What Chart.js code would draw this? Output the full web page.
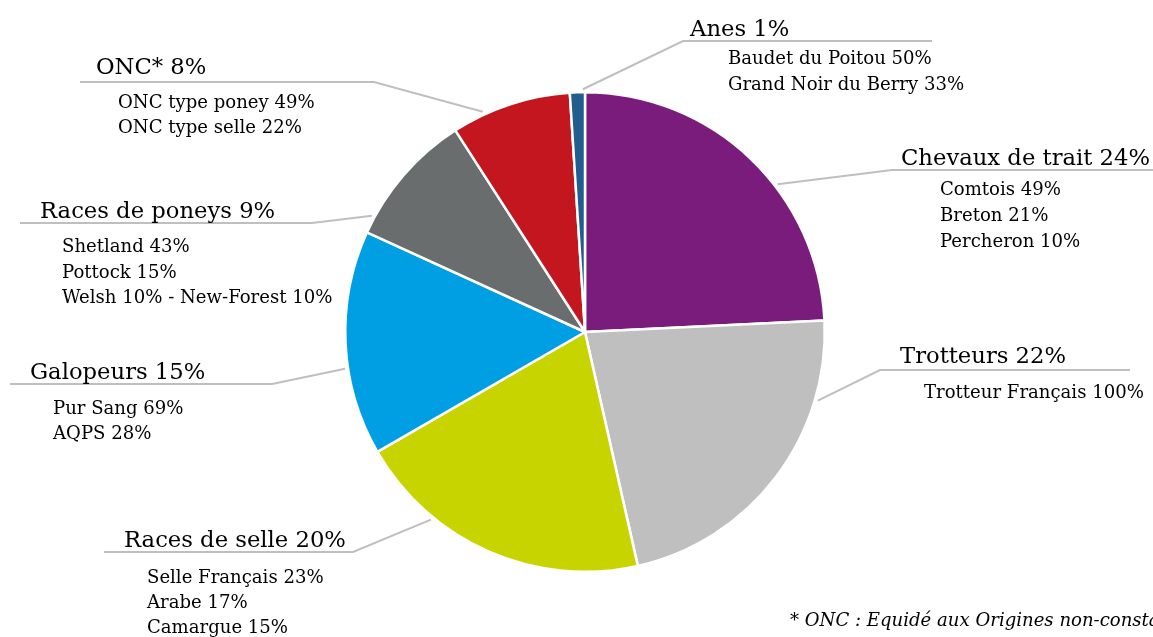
<!DOCTYPE html>
<html>
<head>
<meta charset="utf-8">
<script src="https://cdn.jsdelivr.net/npm/chart.js@4"></script>
<style>
  html, body { margin: 0; padding: 0; background: #fff; overflow: hidden; }
  #wrap { width: 1153px; height: 637px; position: relative; }
</style>
</head>
<body>
<div id="wrap"><canvas id="pieChart" width="1153" height="637"></canvas></div>
<script>
// Data
const categories = ['Chevaux de trait', 'Trotteurs', 'Races de selle', 'Galopeurs', 'Races de poneys', 'ONC*', 'Anes'];
const shares = [24, 22, 20, 15, 9, 8, 1];
const breakdowns = [
    ['Comtois 49%', 'Breton 21%', 'Percheron 10%'],
    ['Trotteur Français 100%'],
    ['Selle Français 23%', 'Arabe 17%', 'Camargue 15%'],
    ['Pur Sang 69%', 'AQPS 28%'],
    ['Shetland 43%', 'Pottock 15%', 'Welsh 10% - New-Forest 10%'],
    ['ONC type poney 49%', 'ONC type selle 22%'],
    ['Baudet du Poitou 50%', 'Grand Noir du Berry 33%']
];
const sliceColors = ['#7a1c7b', '#bfbfbf', '#c8d400', '#009fe3', '#6a6d6e', '#c3161e', '#215e8e'];
const footnote = '* ONC : Equidé aux Origines non-constatées';

// Label placement (layout only): underline y, outer end x, elbow x, angle on the rim (deg from top)
const labelLayout = [
    { lineY: 170, endX: 1153, elbowX: 892, angle: 52.5,  titleX: 901, titleY: 165, subX: 940, subY: 195, step: 26 },
    { lineY: 370, endX: 1130, elbowX: 880, angle: 106.4, titleX: 900, titleY: 363, subX: 924, subY: 398, step: 26 },
    { lineY: 552, endX: 104,  elbowX: 353, angle: 219.4, titleX: 124, titleY: 547, subX: 147, subY: 583, step: 25 },
    { lineY: 384, endX: 10,   elbowX: 272, angle: 261.3, titleX: 30,  titleY: 379, subX: 53,  subY: 414, step: 25 },
    { lineY: 223, endX: 20,   elbowX: 312, angle: 298.6, titleX: 40,  titleY: 218, subX: 62,  subY: 252, step: 25.5 },
    { lineY: 82,  endX: 80,   elbowX: 374, angle: 335.1, titleX: 96,  titleY: 74,  subX: 118, subY: 108, step: 25 },
    { lineY: 41,  endX: 932,  elbowX: 683, angle: 359.5, titleX: 690, titleY: 36,  subX: 728, subY: 64,  step: 25.5 }
];

const FAMILY = '"DejaVu Serif", "Liberation Serif", serif';

function fitSize(ctx, style, sample, width) {
    ctx.font = style + ' 100px ' + FAMILY;
    return 100 * width / ctx.measureText(sample).width;
}

const calloutPlugin = {
    id: 'callouts',
    afterDraw(chart) {
        const ctx = chart.ctx;
        const arcs = chart.getDatasetMeta(0).data;
        const titleSize = fitSize(ctx, '', 'Chevaux de trait 24%', 249);
        const subSize = fitSize(ctx, '', 'Trotteur Français 100%', 220);

        ctx.save();
        ctx.textBaseline = 'alphabetic';
        ctx.textAlign = 'left';
        ctx.fillStyle = '#000';

        labelLayout.forEach((pos, i) => {
            const arc = arcs[i];
            const a = pos.angle * Math.PI / 180;
            const r = arc.outerRadius + 3;
            const px = arc.x + r * Math.sin(a);
            const py = arc.y - r * Math.cos(a);

            ctx.strokeStyle = '#bfbfbf';
            ctx.lineWidth = 2;
            ctx.beginPath();
            ctx.moveTo(px, py);
            ctx.lineTo(pos.elbowX, pos.lineY);
            ctx.lineTo(pos.endX, pos.lineY);
            ctx.stroke();

            ctx.font = titleSize.toFixed(2) + 'px ' + FAMILY;
            ctx.fillText(categories[i] + ' ' + shares[i] + '%', pos.titleX, pos.titleY);

            ctx.font = subSize.toFixed(2) + 'px ' + FAMILY;
            breakdowns[i].forEach((line, j) => {
                ctx.fillText(line, pos.subX, pos.subY + j * pos.step);
            });
        });

        ctx.font = 'italic ' + subSize.toFixed(2) + 'px ' + FAMILY;
        ctx.fillText(footnote, 790, 626);
        ctx.restore();
    }
};

new Chart(document.getElementById('pieChart'), {
    type: 'pie',
    data: {
        labels: categories,
        datasets: [{
            data: shares,
            backgroundColor: sliceColors,
            borderColor: '#ffffff',
            borderWidth: 2.5,
            hoverOffset: 0
        }]
    },
    options: {
        responsive: false,
        animation: false,
        devicePixelRatio: 1,
        layout: {
            padding: { top: 91, bottom: 64, left: 344, right: 327 }
        },
        plugins: {
            legend: { display: false },
            tooltip: { enabled: false }
        }
    },
    plugins: [calloutPlugin]
});
</script>
</body>
</html>
